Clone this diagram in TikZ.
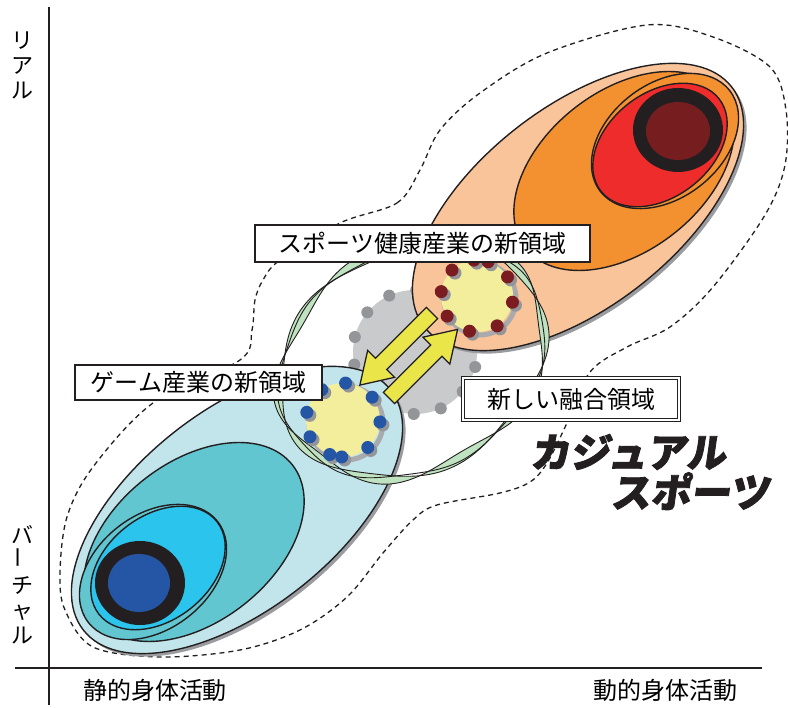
\documentclass[tikz,border=0pt]{standalone}
\usepackage{fontspec}
\usepackage{graphicx}
\newfontfamily\jpfont{Noto Sans CJK JP}
\newfontfamily\jpheavy{Noto Sans CJK JP}[FakeSlant=0.14, BoldFeatures={FakeBold=2}]
\usetikzlibrary{positioning,calc}
\definecolor{orangeL}{HTML}{F9C49A}
\definecolor{orangeM}{HTML}{F39130}
\definecolor{redM}{HTML}{EE2C2B}
\definecolor{redD}{HTML}{761D20}
\definecolor{blueL}{HTML}{C1E5EB}
\definecolor{blueM}{HTML}{62C6D1}
\definecolor{blueC}{HTML}{2BC4EC}
\definecolor{blueD}{HTML}{2456A5}
\definecolor{inkblack}{HTML}{231F20}
\definecolor{shadowgray}{HTML}{9A9C9F}
\definecolor{diskgray}{HTML}{C9CACC}
\definecolor{dotgray}{HTML}{939598}
\definecolor{paleyellow}{HTML}{F2EE9C}
\definecolor{arrowyellow}{HTML}{EAE64A}
\definecolor{leafgreen}{HTML}{BFE2C0}
\definecolor{maroon}{HTML}{7B1C20}
\tikzset{
  zone/.style={draw=inkblack, line width=1.4pt},
  shadowzone/.style={fill=shadowgray},
  labelbox/.style={draw=inkblack, line width=1.4pt, fill=white, inner sep=0pt,
    font={\jpfont\fontsize{24pt}{28pt}\selectfont}},
  axislabel/.style={inner sep=0pt, align=center, font={\jpfont\fontsize{22pt}{25pt}\selectfont}},
  bottomlabel/.style={inner sep=0pt, font={\jpfont\fontsize{24pt}{28pt}\selectfont}},
  casualtext/.style={inner sep=0pt, text=inkblack, font={\jpheavy\bfseries\fontsize{40pt}{44pt}\selectfont}},
  yarrow/.style={draw=inkblack, line width=1.3pt, fill=arrowyellow, line join=miter},
  ribbon/.style={fill=leafgreen},
  strand/.style={draw=inkblack, line width=0.9pt}
}
\begin{document}
\begin{tikzpicture}[x=1pt,y=1pt]
  \useasboundingbox (0,0) rectangle (788,708);

  % outer dashed region
  \draw[inkblack, line width=1.3pt, dash pattern=on 5pt off 4pt]
    plot[smooth cycle, tension=0.55] coordinates {
      (340,485) (397,505) (420,538) (440,578) (480,615) (547,655) (647,683)
      (713,671) (770,641) (786,598) (785,543) (765,493) (713,421) (670,381)
      (627,361) (590,336) (567,285) (547,245) (530,226) (500,215) (437,203)
      (413,188) (383,155) (347,111) (300,78) (240,58) (160,51) (93,61)
      (65,98) (60,135) (67,191) (93,241) (153,305) (240,348) (252,378)
      (255,408) (263,428) (280,448)};

  % gray fusion disk
  \fill[diskgray] (415,356) circle (62);
  \foreach \a in {0,...,13}
    \fill[dotgray] (415,356) ++(-14+\a*25.714:62) circle (6);

  % real side (orange)
  \fill[shadowzone] (581,498) ellipse [x radius=195, y radius=100, rotate=38];
  \draw[zone, fill=orangeL] (578,501) ellipse [x radius=195, y radius=100, rotate=38];
  \draw[zone, fill=orangeM] (624,537) ellipse [x radius=125, y radius=80, rotate=38];
  \draw[zone, fill=orangeM] (665,567) ellipse [x radius=82, y radius=57, rotate=38];
  \draw[zone, fill=redM] (660,563) ellipse [x radius=75, y radius=52, rotate=38];
  \fill[inkblack] (678,578) ellipse [x radius=45, y radius=42];
  \fill[redD] (678,577) ellipse [x radius=32, y radius=29];

  % virtual side (blue)
  \fill[shadowzone] (240,195) ellipse [x radius=195, y radius=100, rotate=38];
  \draw[zone, fill=blueL] (237,198) ellipse [x radius=195, y radius=100, rotate=38];
  \draw[zone, fill=blueM] (194,166) ellipse [x radius=125, y radius=80, rotate=38];
  \draw[zone, fill=blueM] (153,136) ellipse [x radius=82, y radius=57, rotate=38];
  \draw[zone, fill=blueC] (158,140) ellipse [x radius=75, y radius=52, rotate=38];
  \fill[inkblack] (140,125) ellipse [x radius=45, y radius=42];
  \fill[blueD] (139,125) ellipse [x radius=31, y radius=29];

  % twisted green ring
  \begin{scope}[shift={(412,348)}, rotate=30]
    \fill[ribbon, even odd rule]
      plot[smooth cycle, domain=0:356, samples=90, variable=\t]
        ({(140+6*sin(5*\t))*cos(\t)}, {(110+6*sin(5*\t))*sin(\t)})
      plot[smooth cycle, domain=0:356, samples=90, variable=\t]
        ({(140-4*sin(5*\t+40))*cos(\t)}, {(110-4*sin(5*\t+40))*sin(\t)});
    \draw[strand] plot[smooth cycle, domain=0:356, samples=90, variable=\t]
      ({(140+6*sin(5*\t))*cos(\t)}, {(110+6*sin(5*\t))*sin(\t)});
    \draw[strand] plot[smooth cycle, domain=0:356, samples=90, variable=\t]
      ({(140-4*sin(5*\t+40))*cos(\t)}, {(110-4*sin(5*\t+40))*sin(\t)});
    \draw[strand] plot[smooth cycle, domain=0:356, samples=90, variable=\t]
      ({(140+2*sin(7*\t+20))*cos(\t)}, {(110+2*sin(7*\t+20))*sin(\t)});
  \end{scope}

  % new field of sports and health
  \draw[dotgray!80, line width=5pt] (480,409) circle (36);
  \fill[paleyellow] (477,412) circle (36);
  \foreach \a in {32,72,95,134,173,214,258,304,350}
    \fill[dotgray] (480,409) ++(\a:36) circle (6.5);
  \foreach \a in {32,72,95,134,173,214,258,304,350}
    \fill[maroon] (477,412) ++(\a:36) circle (6.5);

  % new field of games
  \draw[dotgray!80, line width=5pt] (346,285) circle (37);
  \fill[paleyellow] (343,288) circle (37);
  \foreach \a in {86,38,-3,-48,-92,-111,-153,168,125}
    \fill[dotgray] (346,285) ++(\a:37) circle (6.5);
  \foreach \a in {86,38,-3,-48,-92,-111,-153,168,125}
    \fill[blueD] (343,288) ++(\a:37) circle (6.5);

  % exchange arrows
  \begin{scope}[shift={(432,395)}, rotate=225]
    \draw[yarrow] (0,-8) -- (72,-8) -- (72,-19) -- (102,0) -- (72,19) -- (72,8) -- (0,8) -- cycle;
  \end{scope}
  \begin{scope}[shift={(389,310)}, rotate=45]
    \draw[yarrow] (0,-8) -- (67,-8) -- (67,-19) -- (97,0) -- (67,19) -- (67,8) -- (0,8) -- cycle;
  \end{scope}

  % label boxes
  \node[labelbox, minimum width=335pt, minimum height=37pt] (sports) at (422.5,464.5) {スポーツ健康産業の新領域};
  \node[labelbox, minimum width=247pt, minimum height=35pt] (games) at (198.5,325.5) {ゲーム産業の新領域};
  \node[labelbox, double=white, double distance=2.5pt, line width=1.2pt,
        minimum width=216pt, minimum height=42pt] (fusion) at (571,309) {新しい融合領域};

  % casual sports
  \node[casualtext] (casual1) at (628,256) {カジュアル};
  \node[casualtext, below=2pt of casual1, xshift=62pt] (casual2) {スポーツ};

  % axes
  \coordinate (ytop) at (49,701);
  \coordinate (ybot) at (49,3);
  \coordinate (xleft) at (15,40);
  \coordinate (xright) at (762,40);
  \draw[inkblack, line width=1.5pt] (ytop) -- (ybot);
  \draw[inkblack, line width=1.5pt] (xleft) -- (xright);

  \node[axislabel] (real) at (22,643) {リ\\ア\\ル};
  \node[axislabel] (virtual) at (22,123) {バ\\\rotatebox{90}{ー}\\チ\\ャ\\ル};
  \node[bottomlabel] (static) at (155,18) {静的身体活動};
  \node[bottomlabel] (dynamic) at (665,18) {動的身体活動};
\end{tikzpicture}
\end{document}
